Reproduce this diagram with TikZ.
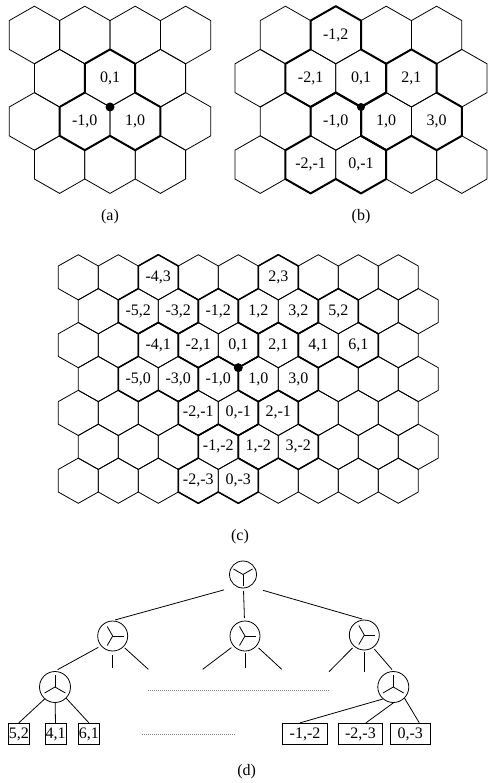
\documentclass[tikz,border=0pt]{standalone}
\usepackage{fontspec}
\setmainfont{Liberation Serif}
\usetikzlibrary{positioning, calc}

% one cell, centre from its label (#2,#3)
\newcommand{\hexa}[3][]{\draw[#1, shift={({\ox+(#2)*\hw},{\oy+\hr/2-1.5*\hr*(#3)})}]
  (0,-\hr) -- (\hw,-\hr/2) -- (\hw,\hr/2) -- (0,\hr) -- (-\hw,\hr/2) -- (-\hw,-\hr/2) -- cycle;}
% outline of three cells, top cell (#2,#3)
\newcommand{\trihex}[3][]{\draw[clus, #1, shift={({\ox+(#2)*\hw},{\oy+1.5*\hr-1.5*\hr*(#3)})}]
  (0,-2*\hr) -- (\hw,-1.5*\hr) -- (\hw,-0.5*\hr) -- (2*\hw,0) -- (2*\hw,\hr) -- (\hw,1.5*\hr)
  -- (0,\hr) -- (-\hw,1.5*\hr) -- (-2*\hw,\hr) -- (-2*\hw,0) -- (-\hw,-0.5*\hr) -- (-\hw,-1.5*\hr) -- cycle;}
\newcommand{\hexlab}[3]{\node (#1#2_#3) at ({\ox+(#2)*\hw},{\oy+\hr/2-1.5*\hr*(#3)}) {#2,#3};}
\newcommand{\spokes}[3]{\foreach \s in {0,120,240} {\draw (#1.center) -- ++(#2+\s:#3);}}

\begin{document}
\begin{tikzpicture}[x=1pt, y=-1pt, line width=0.8pt, font=\fontsize{16}{19}\selectfont,
    clus/.style={line width=2pt, line join=round},
    hub/.style={circle, draw, minimum size=30pt, inner sep=0pt},
    leaf/.style={draw, inner xsep=0.5pt, inner ysep=0pt, minimum height=21.5pt},
    wideleaf/.style={leaf, inner xsep=7pt},
    gap/.style={gray, line width=0.6pt, dash pattern=on 0.6pt off 1.4pt}]
  \useasboundingbox (0,0) rectangle (487,783);

  % (a)
  \def\ox{110}\def\oy{107}\def\hw{25.2}\def\hr{28.8}
  \foreach \j/\row in {2/{-3,-1,1,3}, 1/{-2,0,2}, 0/{-3,-1,1,3}, -1/{-2,0,2}}
    \foreach \i in \row {\hexa{\i}{\j}}
  \trihex{0}{1}
  \foreach \i/\j in {0/1, -1/0, 1/0} {\hexlab{a}{\i}{\j}}
  \fill (\ox,\oy) circle (4.5pt);
  \node (capa) at (110,217) {(a)};

  % (b)
  \def\ox{361}\def\oy{107}
  \foreach \j/\row in {2/{-3,-1,1,3}, 1/{-4,-2,...,4}, 0/{-3,-1,1,3}, -1/{-4,-2,...,4}}
    \foreach \i in \row {\hexa{\i}{\j}}
  \foreach \i/\j in {-1/2, 2/1, -1/0} {\trihex{\i}{\j}}
  \foreach \i/\j in {-1/2, -2/1, 0/1, 2/1, -1/0, 1/0, 3/0, -2/-1, 0/-1} {\hexlab{b}{\i}{\j}}
  \fill (\ox,\oy) circle (4pt);
  \node (capb) at (361,217) {(b)};

  % (c)
  \def\ox{238.3}\def\oy{367.7}\def\hw{20}\def\hr{22.6}
  \foreach \j in {3,1,-1,-3}
    \foreach \i in {-8,-6,...,8} {\hexa{\i}{\j}}
  \foreach \j in {2,0,-2}
    \foreach \i in {-7,-5,...,9} {\hexa{\i}{\j}}
  \foreach \i/\j in {-4/3, 2/3, -1/2, 5/2, -4/1, 2/1, -1/0, 2/-1, -1/-2} {\trihex[line width=1.5pt]{\i}{\j}}
  \foreach \i/\j in {-4/3, 2/3, -5/2, -3/2, -1/2, 1/2, 3/2, 5/2, -4/1, -2/1, 0/1, 2/1, 4/1, 6/1,
      -5/0, -3/0, -1/0, 1/0, 3/0, -2/-1, 0/-1, 2/-1, -1/-2, 1/-2, 3/-2, -2/-3, 0/-3} {\hexlab{c}{\i}{\j}}
  \fill (\ox,\oy) circle (4.5pt);
  \node (capc) at (240,537) {(c)};

  % (d)
  \node[hub, minimum size=27pt] (root) at (243,574.5) {};
  \node[hub] (l1a) at (112.7,636) {};
  \node[hub] (l1b) at (245,636) {};
  \node[hub] (l1c) at (364.3,635) {};
  \node[hub, minimum size=31pt] (l2a) at (55,687) {};
  \node[hub, minimum size=31pt] (l2b) at (393.3,687) {};
  \spokes{root}{30}{11pt}
  \foreach \n in {l1a,l1b,l1c} {\spokes{\n}{0}{11pt}}
  \foreach \n in {l2a,l2b} {\spokes{\n}{90}{12pt}}

  \node[leaf] (k1) at (18.8,734) {5,2};
  \node[leaf, right=15pt of k1] (k2) {4,1};
  \node[leaf, right=11.5pt of k2] (k3) {6,1};
  \node[wideleaf] (k4) at (305,734) {-1,-2};
  \node[wideleaf, right=10pt of k4] (k5) {-2,-3};
  \node[wideleaf, right=7pt of k5] (k6) {0,-3};

  \draw[shorten <=12.5pt, shorten >=2.5pt] (root.240) -- (l1a.north);
  \draw[shorten <=2.5pt, shorten >=2.5pt] (root) -- (l1b);
  \draw[shorten <=13.5pt, shorten >=2pt] (root.-60) -- (l1c.north);

  \coordinate (sa2) at (112.7,668.3);
  \coordinate (sa3) at (148.3,669.3);
  \coordinate (sb1) at (202.7,669.3);
  \coordinate (sb2) at (245,668);
  \coordinate (sb3) at (281.7,669.3);
  \coordinate (sc1) at (329,671.7);
  \coordinate (sc2) at (364.3,671.7);
  \draw[shorten <=3pt, shorten >=3pt] (l1a.220) -- (l2a.north);
  \draw[shorten <=4pt] (l1a.south) -- (sa2);
  \draw[shorten <=1.5pt] (l1a.-45) -- (sa3);
  \draw[shorten <=2.5pt] (l1b.221) -- (sb1);
  \draw[shorten <=2pt] (l1b.south) -- (sb2);
  \draw[shorten <=2.5pt] (l1b.-41) -- (sb3);
  \draw[shorten <=2pt] (l1c.228) -- (sc1);
  \draw[shorten <=1.5pt] (l1c.south) -- (sc2);
  \draw[shorten <=2pt, shorten >=2pt] (l1c.-55) -- (l2b.north);

  \draw (l2a.229) -- (k1.north);
  \draw (l2a) -- (k2);
  \draw (l2a.-45) -- (k3.north);
  \draw (l2b.229) -- ($(k4.north)!0.22!(k4.north west)$);
  \draw (l2b.south) -- ($(k5.north)!0.24!(k5.north east)$);
  \draw (l2b.-45) -- ($(k6.north)!0.45!(k6.north east)$);

  \coordinate (da) at (148.3,690);
  \coordinate (db) at (330,690);
  \coordinate (dc) at (141.7,734);
  \coordinate (dd) at (235,734);
  \draw[gap] (da) -- (db);
  \draw[gap] (dc) -- (dd);
  \node (capd) at (246.7,772) {(d)};
\end{tikzpicture}
\end{document}
